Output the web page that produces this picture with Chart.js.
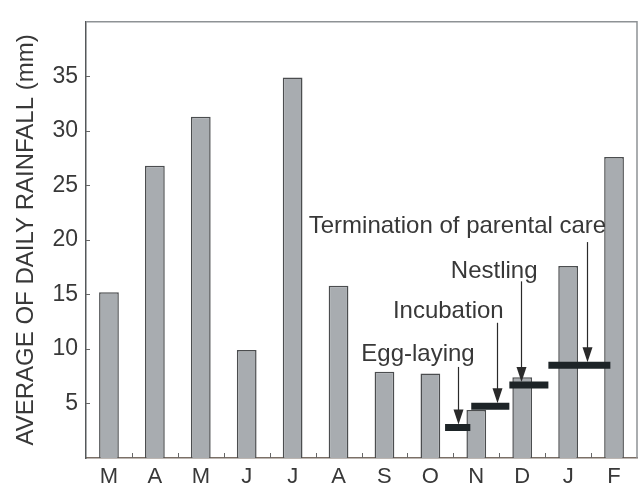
<!DOCTYPE html>
<html>
<head>
<meta charset="utf-8">
<script src="https://cdn.jsdelivr.net/npm/chart.js@4.4.1/dist/chart.umd.min.js"></script>
<style>
  html, body { margin: 0; padding: 0; background: #ffffff; }
  #wrap { width: 639px; height: 485px; position: relative; }
</style>
</head>
<body>
<div id="wrap"><canvas id="rainChart"></canvas></div>
<script>
// Monthly rainfall (March to February)
const months = ['M', 'A', 'M', 'J', 'J', 'A', 'S', 'O', 'N', 'D', 'J', 'F'];
const rainfall = [15.2, 26.8, 31.3, 9.9, 34.9, 15.8, 7.9, 7.75, 4.4, 7.4, 17.6, 27.6];
const yTicks = [5, 10, 15, 20, 25, 30, 35];

// Breeding phases, in month units (index of month) and rainfall level
const phaseNames = ['Egg-laying', 'Incubation', 'Nestling', 'Termination of parental care'];
const phaseStart = [7.32, 7.89, 8.72, 9.57];
const phaseEnd = [7.87, 8.72, 9.57, 10.92];
const phaseLevel = [2.8, 4.75, 6.7, 8.5];

const FONT = "'Liberation Sans', Arial, Helvetica, sans-serif";
const TEXT = '#383838';

// where the labels and their arrows sit (data units)
const notes = {
    labelX: [6.73, 7.39, 8.39, 7.59],
    labelY: [9.5, 13.4, 17.1, 21.2],
    arrowX: [7.60, 8.45, 8.98, 10.42],
    arrowTop: [8.35, 12.4, 16.2, 19.8]
};

// one line dataset per phase
const phaseSets = phaseNames.map((name, i) => ({
    type: 'line',
    label: name,
    data: [{ x: phaseStart[i], y: phaseLevel[i] }, { x: phaseEnd[i], y: phaseLevel[i] }],
    borderColor: '#1d2427',
    borderWidth: 7,
    borderCapStyle: 'butt',
    pointRadius: 0,
    order: 0
}));

const framePlugin = {
    id: 'frame',
    afterDatasetsDraw(chart) {
        const { ctx, chartArea: a, scales } = chart;
        const xs = scales.x, ys = scales.y;
        ctx.save();
        // top and right edges of the box
        ctx.strokeStyle = '#8e9295';
        ctx.lineWidth = 1.5;
        ctx.beginPath();
        ctx.moveTo(a.left, a.top);
        ctx.lineTo(a.right, a.top);
        ctx.lineTo(a.right, a.bottom);
        ctx.stroke();

        // small inward ticks
        ctx.strokeStyle = '#666';
        ctx.lineWidth = 1;
        yTicks.forEach(v => {
            const y = Math.round(ys.getPixelForValue(v)) + 0.5;
            ctx.beginPath();
            ctx.moveTo(a.left, y);
            ctx.lineTo(a.left + 4, y);
            ctx.stroke();
        });
        for (let i = 0; i < months.length - 1; i++) {
            const x = Math.round(xs.getPixelForValue(i + 0.5)) + 0.5;
            ctx.beginPath();
            ctx.moveTo(x, a.bottom);
            ctx.lineTo(x, a.bottom - 5);
            ctx.stroke();
        }

        // arrows and phase labels
        ctx.font = '24px ' + FONT;
        ctx.textAlign = 'center';
        ctx.textBaseline = 'middle';
        phaseNames.forEach((name, i) => {
            ctx.fillStyle = TEXT;
            ctx.fillText(name, xs.getPixelForValue(notes.labelX[i]), ys.getPixelForValue(notes.labelY[i]));

            const x = Math.round(xs.getPixelForValue(notes.arrowX[i])) + 0.5;
            const top = ys.getPixelForValue(notes.arrowTop[i]);
            const tip = ys.getPixelForValue(phaseLevel[i]) - 3;
            ctx.strokeStyle = '#2a2a2a';
            ctx.lineWidth = 1.2;
            ctx.beginPath();
            ctx.moveTo(x, top);
            ctx.lineTo(x, tip - 12);
            ctx.stroke();
            ctx.fillStyle = '#2a2a2a';
            ctx.beginPath();
            ctx.moveTo(x - 5, tip - 15);
            ctx.lineTo(x + 5, tip - 15);
            ctx.lineTo(x, tip);
            ctx.closePath();
            ctx.fill();
        });
        ctx.restore();
    }
};

new Chart(document.getElementById('rainChart'), {
    type: 'bar',
    data: {
        datasets: [{
            label: 'Rainfall',
            data: rainfall.map((v, i) => ({ x: i, y: v })),
            backgroundColor: '#a8acb0',
            borderColor: '#4b4d4f',
            borderWidth: 1.5,
            barPercentage: 0.43,
            categoryPercentage: 1,
            order: 1
        }, ...phaseSets]
    },
    options: {
        responsive: true,
        maintainAspectRatio: false,
        animation: false,
        layout: { padding: { top: 12, right: 2, left: 0, bottom: 0 } },
        plugins: {
            legend: { display: false },
            tooltip: { enabled: false }
        },
        scales: {
            x: {
                type: 'linear',
                offset: false,
                min: -0.5,
                max: 11.5,
                grid: { display: false, drawTicks: false },
                border: { display: true, color: '#7a6f66', width: 1.5 },
                afterBuildTicks: (scale) => {
                    scale.ticks = months.map((m, i) => ({ value: i }));
                },
                ticks: {
                    padding: 6,
                    color: TEXT,
                    autoSkip: false,
                    maxRotation: 0,
                    font: { family: FONT, size: 22 },
                    callback: (v) => months[v]
                },
                afterFit: (scale) => { scale.height = 27; }
            },
            y: {
                min: 0,
                max: 40,
                grid: { display: false, drawTicks: false },
                border: { display: true, color: '#55585a', width: 1.5 },
                ticks: {
                    stepSize: 5,
                    padding: 8,
                    color: TEXT,
                    font: { family: FONT, size: 23 },
                    callback: (v) => (v === 0 || v === 40) ? '' : v
                },
                title: {
                    display: true,
                    text: 'AVERAGE OF DAILY RAINFALL (mm)',
                    color: TEXT,
                    font: { family: FONT, size: 24 },
                    padding: { top: 12, bottom: 0 }
                },
                afterFit: (scale) => { scale.width = 86; }
            }
        }
    },
    plugins: [framePlugin]
});
</script>
</body>
</html>
